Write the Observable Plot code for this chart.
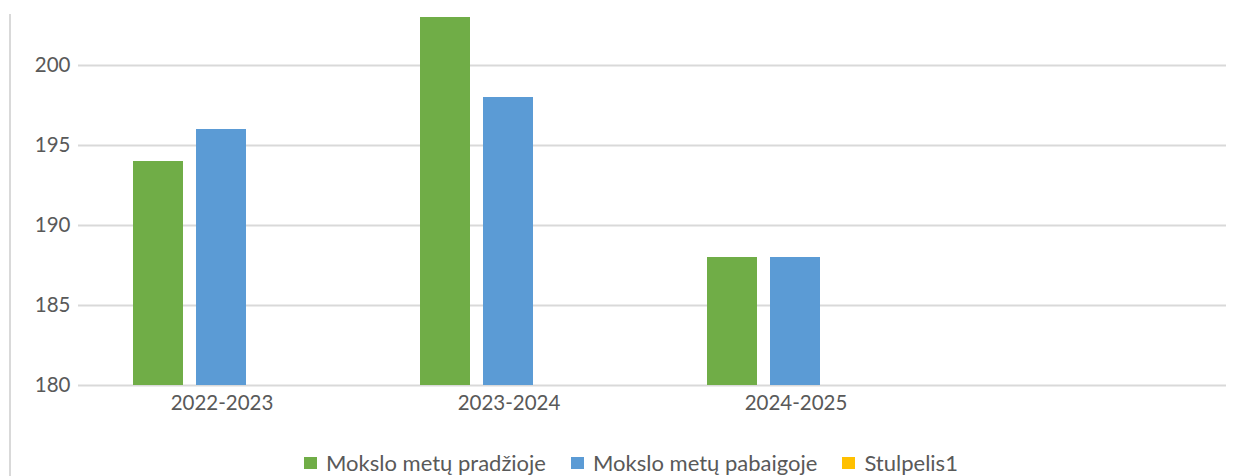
<!DOCTYPE html>
<html>
<head>
<meta charset="utf-8">
<script src="https://cdn.jsdelivr.net/npm/d3@7"></script>
<script src="https://cdn.jsdelivr.net/npm/@observablehq/plot@0.6"></script>
<style>
  html, body { margin: 0; padding: 0; background: #fff; }
  #wrap { position: relative; width: 1241px; height: 476px; overflow: hidden; font-family: Lato, "Open Sans", sans-serif; }
  #border { position: absolute; left: 9px; top: 14px; width: 2px; height: 470px; background: #d9d9d9; }
  #legend { position: absolute; left: 304px; top: 449px; height: 27px; display: flex; align-items: center; font-size: 22px; color: #595959; white-space: nowrap; }
  #legend .item { display: flex; align-items: center; margin-right: 25px; }
  #legend .sw { width: 13px; height: 12px; margin-right: 9px; }
</style>
</head>
<body>
<div id="wrap">
  <div id="border"></div>
  <div id="chart"></div>
  <div id="legend"></div>
</div>
<script>
const categories = ["2022-2023", "2023-2024", "2024-2025", " "];
const series = ["Mokslo metų pradžioje", "Mokslo metų pabaigoje", "Stulpelis1"];
const startValues = [194, 203, 188, null];
const endValues = [196, 198, 188, null];
const stulpelisValues = [null, null, null, null];
const yTicks = [180, 185, 190, 195, 200];
const colors = ["#70AD47", "#5B9BD5", "#FFC000"];

const seriesValues = [startValues, endValues, stulpelisValues];
const rows = [];
categories.forEach((c, i) => {
  series.forEach((s, j) => {
    rows.push({category: c, series: s, value: seriesValues[j][i]});
  });
});

const chart = Plot.plot({
  width: 1241,
  height: 440,
  marginTop: 1,
  marginLeft: 78,
  marginRight: 15,
  marginBottom: 55,
  style: {fontFamily: "Lato, 'Open Sans', sans-serif", fontSize: "20.5px", color: "#595959", background: "transparent"},
  fx: {domain: categories, padding: 0, label: null, axis: "bottom", tickSize: 0, tickPadding: 10},
  x: {domain: series, paddingInner: 0.203, paddingOuter: 0.844, axis: null},
  y: {domain: [180, 204], ticks: yTicks, tickSize: 0, tickPadding: 8, label: null},
  color: {domain: series, range: colors},
  marks: [
    Plot.ruleY(yTicks, {stroke: "#d9d9d9", strokeWidth: 2}),
    Plot.rectY(rows, {fx: "category", x: "series", y1: 180, y2: "value", fill: "series"})
  ]
});
document.getElementById("chart").appendChild(chart);

const legend = document.getElementById("legend");
series.forEach((s, i) => {
  const item = document.createElement("div");
  item.className = "item";
  const sw = document.createElement("span");
  sw.className = "sw";
  sw.style.background = colors[i];
  const t = document.createElement("span");
  t.textContent = s;
  item.appendChild(sw);
  item.appendChild(t);
  legend.appendChild(item);
});
</script>
</body>
</html>
